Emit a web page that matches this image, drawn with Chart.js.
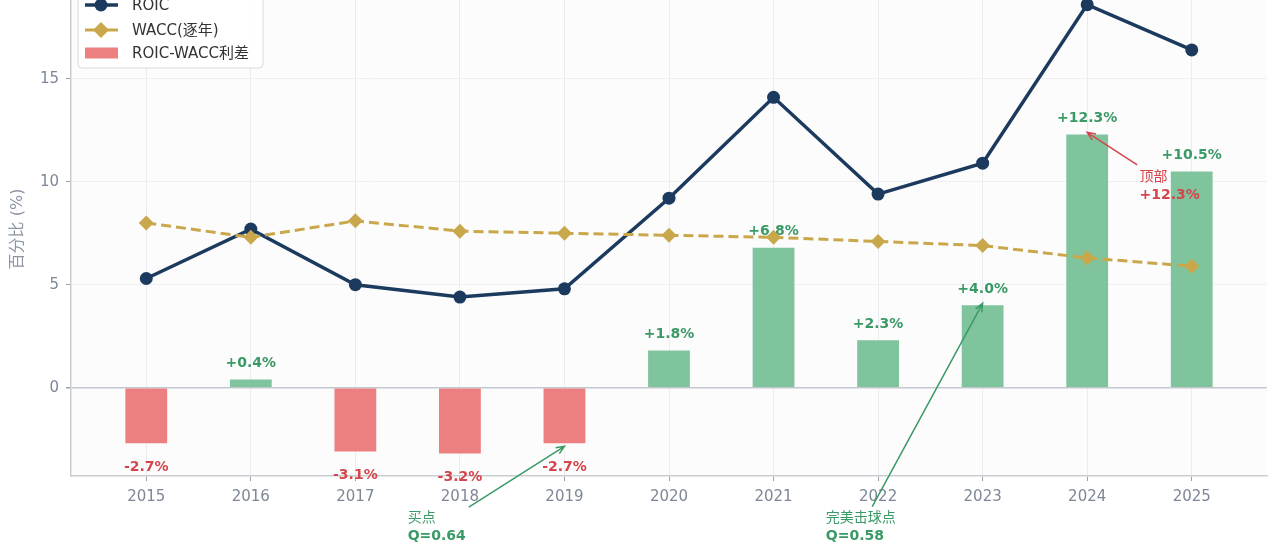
<!DOCTYPE html>
<html lang="zh-CN">
<head>
  <meta charset="UTF-8" />
  <title>ROIC vs WACC</title>
  <script src="https://cdn.jsdelivr.net/npm/chart.js@4.4.1/dist/chart.umd.min.js"></script>
  <style>
    html, body {
      margin: 0;
      padding: 0;
      background: #ffffff;
    }

    /* the reference is cropped at the top, so the canvas sits a bit above the frame */
    .frame {
      width: 1280px;
      height: 543px;
      overflow: hidden;
      position: relative;
    }

    .chart-box {
      position: absolute;
      left: 0;
      top: -60px;
      width: 1280px;
      height: 603px;
    }
  </style>
</head>
<body>
  <div class="frame">
    <div class="chart-box">
      <canvas id="roicChart"></canvas>
    </div>
  </div>

  <script>
    const years = [2015, 2016, 2017, 2018, 2019, 2020, 2021, 2022, 2023, 2024, 2025];
    const roic = [5.3, 7.7, 5.0, 4.4, 4.8, 9.2, 14.1, 9.4, 10.9, 18.6, 16.4];
    const wacc = [8.0, 7.3, 8.1, 7.6, 7.5, 7.4, 7.3, 7.1, 6.9, 6.3, 5.9];
    const spread = [-2.7, 0.4, -3.1, -3.2, -2.7, 1.8, 6.8, 2.3, 4.0, 12.3, 10.5];
    const yTicks = [0, 5, 10, 15];
    const legendLabels = ["ROIC", "WACC(逐年)", "ROIC-WACC利差"];
    const axisTitle = "百分比 (%)";

    // annotations: text lines, arrow target (year, value), text anchor (left year, middle value)
    const noteLines = [["买点", "Q=0.64"], ["完美击球点", "Q=0.58"], ["顶部", "+12.3%"]];
    const noteTargets = [[2019, -2.7], [2023, 4.0], [2024, 12.3]];
    const noteAnchors = [[2017.5, -6.8], [2021.5, -6.8], [2024.5, 9.8]];

    const FONT = '"DejaVu Sans", "Noto Sans CJK SC", sans-serif';
    const NAVY = "#1c3a5e";
    const GOLD = "#c9a74b";
    const GREEN_BAR = "#80c49d";
    const RED_BAR = "#ec8080";
    const GREEN_TXT = "#3a9a66";
    const RED_TXT = "#d4454c";
    const TICK_TXT = "#7d8796";

    const plotBackground = {
      id: "plotBackground",
      beforeDraw(chart) {
        const { ctx, chartArea: a } = chart;
        ctx.save();
        ctx.fillStyle = "#fcfcfd";
        ctx.fillRect(a.left, a.top, a.right - a.left, a.bottom - a.top);
        ctx.restore();
      }
    };

    // value labels on the bars, drawn after the bars but under the lines
    const barLabels = {
      id: "barLabels",
      afterDatasetDraw(chart, args) {
        if (args.index !== 2) return;
        const { ctx } = chart;
        const meta = chart.getDatasetMeta(2);
        ctx.save();
        ctx.font = "bold 14px " + FONT;
        ctx.textAlign = "center";
        ctx.textBaseline = "middle";
        meta.data.forEach((bar, i) => {
          const v = spread[i];
          const txt = (v >= 0 ? "+" : "") + v.toFixed(1) + "%";
          ctx.fillStyle = v >= 0 ? GREEN_TXT : RED_TXT;
          const y = v >= 0 ? bar.y - 16 : bar.y + 24;
          ctx.fillText(txt, bar.x, y);
        });
        ctx.restore();
      }
    };

    function drawArrow(ctx, x0, y0, x1, y1, color) {
      const ang = Math.atan2(y1 - y0, x1 - x0);
      const head = 9;
      ctx.strokeStyle = color;
      ctx.lineWidth = 1.5;
      ctx.beginPath();
      ctx.moveTo(x0, y0);
      ctx.lineTo(x1, y1);
      ctx.moveTo(x1 - head * Math.cos(ang - 0.4), y1 - head * Math.sin(ang - 0.4));
      ctx.lineTo(x1, y1);
      ctx.lineTo(x1 - head * Math.cos(ang + 0.4), y1 - head * Math.sin(ang + 0.4));
      ctx.stroke();
    }

    const notes = {
      id: "notes",
      afterDraw(chart) {
        const { ctx, scales: { x, y } } = chart;
        ctx.save();
        noteLines.forEach((lines, i) => {
          const color = i === 2 ? RED_TXT : GREEN_TXT;
          const left = x.getPixelForValue(noteAnchors[i][0]);
          const mid = y.getPixelForValue(noteAnchors[i][1]);
          const lineH = 18;
          const fonts = ["14px " + FONT, "bold 14px " + FONT];
          let w = 0;
          lines.forEach((t, k) => {
            ctx.font = fonts[k];
            w = Math.max(w, ctx.measureText(t).width);
          });
          const h = lines.length * lineH;
          const cx = left + w / 2;
          const cy = mid;

          // arrow from the edge of the text block to the target
          const tx = x.getPixelForValue(noteTargets[i][0]);
          const ty = y.getPixelForValue(noteTargets[i][1]) + (noteTargets[i][1] < 0 ? 3 : -2);
          const dx = tx - cx, dy = ty - cy;
          const t = Math.min((w / 2 + 3) / Math.abs(dx || 1e-6), (h / 2 + 3) / Math.abs(dy || 1e-6));
          drawArrow(ctx, cx + dx * t, cy + dy * t, tx, ty, color);

          ctx.fillStyle = color;
          ctx.textAlign = "left";
          ctx.textBaseline = "middle";
          lines.forEach((t2, k) => {
            ctx.font = fonts[k];
            ctx.fillText(t2, left, cy - h / 2 + lineH * (k + 0.5));
          });
        });
        ctx.restore();
      }
    };

    const boxLegend = {
      id: "boxLegend",
      afterDraw(chart) {
        const { ctx, chartArea: a } = chart;
        const bx = a.left + 7, by = a.top + 6, bw = 185, bh = 80;
        ctx.save();
        ctx.fillStyle = "rgba(255,255,255,0.9)";
        ctx.strokeStyle = "#d6d8db";
        ctx.lineWidth = 1;
        ctx.beginPath();
        ctx.roundRect(bx, by, bw, bh, 4);
        ctx.fill();
        ctx.stroke();

        const rows = [by + 17, by + 42, by + 65];
        const sx0 = bx + 7, sx1 = bx + 40, mx = bx + 23;

        // ROIC
        ctx.strokeStyle = NAVY;
        ctx.lineWidth = 3.5;
        ctx.beginPath();
        ctx.moveTo(sx0, rows[0]);
        ctx.lineTo(sx1, rows[0]);
        ctx.stroke();
        ctx.fillStyle = NAVY;
        ctx.beginPath();
        ctx.arc(mx, rows[0], 6.5, 0, Math.PI * 2);
        ctx.fill();

        // WACC
        ctx.strokeStyle = GOLD;
        ctx.lineWidth = 3;
        ctx.beginPath();
        ctx.moveTo(sx0, rows[1]);
        ctx.lineTo(sx1, rows[1]);
        ctx.stroke();
        ctx.fillStyle = GOLD;
        ctx.beginPath();
        ctx.moveTo(mx, rows[1] - 8);
        ctx.lineTo(mx + 8, rows[1]);
        ctx.lineTo(mx, rows[1] + 8);
        ctx.lineTo(mx - 8, rows[1]);
        ctx.closePath();
        ctx.fill();

        // spread patch
        ctx.fillStyle = RED_BAR;
        ctx.fillRect(sx0, rows[2] - 5.5, sx1 - sx0, 11);

        ctx.fillStyle = "#333333";
        ctx.font = "15px " + FONT;
        ctx.textAlign = "left";
        ctx.textBaseline = "middle";
        legendLabels.forEach((t, i) => ctx.fillText(t, bx + 54, rows[i] + 1));
        ctx.restore();
      }
    };

    new Chart(document.getElementById("roicChart"), {
      type: "bar",
      data: {
        datasets: [
          {
            type: "line",
            label: legendLabels[0],
            data: years.map((yr, i) => ({ x: yr, y: roic[i] })),
            borderColor: NAVY,
            backgroundColor: NAVY,
            borderWidth: 3.5,
            pointRadius: 6.5,
            pointBorderWidth: 0,
            pointBackgroundColor: NAVY,
            tension: 0,
            clip: false,
            order: 1
          },
          {
            type: "line",
            label: legendLabels[1],
            data: years.map((yr, i) => ({ x: yr, y: wacc[i] })),
            borderColor: GOLD,
            backgroundColor: GOLD,
            borderWidth: 3,
            borderDash: [10, 5],
            pointStyle: "rectRot",
            pointRadius: 7.5,
            pointBorderWidth: 0,
            pointBackgroundColor: GOLD,
            tension: 0,
            clip: false,
            order: 0
          },
          {
            type: "bar",
            label: legendLabels[2],
            data: years.map((yr, i) => ({ x: yr, y: spread[i] })),
            backgroundColor: (c) => (c.raw && c.raw.y >= 0 ? GREEN_BAR : RED_BAR),
            borderWidth: 0,
            barPercentage: 0.4,
            categoryPercentage: 1.0,
            order: 3
          }
        ]
      },
      options: {
        responsive: true,
        maintainAspectRatio: false,
        animation: false,
        layout: {
          padding: { left: 0, right: 13, top: 42, bottom: 0 }
        },
        plugins: {
          legend: { display: false },
          tooltip: { enabled: false }
        },
        scales: {
          x: {
            type: "linear",
            min: 2014.28,
            max: 2025.72,
            offset: false,
            afterBuildTicks: (scale) => {
              scale.ticks = years.map((v) => ({ value: v }));
            },
            afterFit: (scale) => {
              scale.height = 67;
            },
            ticks: {
              callback: (v) => String(v),
              color: TICK_TXT,
              font: { family: FONT, size: 15 },
              padding: 7,
              maxRotation: 0
            },
            grid: {
              offset: false,
              color: "#eaecef",
              lineWidth: 1,
              drawTicks: true,
              tickLength: 5,
              tickColor: "#9aa0a8"
            },
            border: { display: true, color: "#c9cdd2", width: 1.5 }
          },
          y: {
            min: -4.29,
            max: 19.7,
            afterBuildTicks: (scale) => {
              scale.ticks = yTicks.map((v) => ({ value: v }));
            },
            afterFit: (scale) => {
              scale.width = 71;
            },
            ticks: {
              color: TICK_TXT,
              font: { family: FONT, size: 15 },
              padding: 7
            },
            grid: {
              color: (c) => (c.tick && c.tick.value === 0 ? "#c3c8ce" : "#eef0f2"),
              lineWidth: (c) => (c.tick && c.tick.value === 0 ? 1.5 : 1),
              drawTicks: true,
              tickLength: 5,
              tickColor: "#9aa0a8"
            },
            border: { display: true, color: "#c9cdd2", width: 1.5 },
            title: {
              display: true,
              text: axisTitle,
              color: "#8b95a3",
              font: { family: FONT, size: 16 },
              padding: { top: 8, bottom: 4 }
            }
          }
        }
      },
      plugins: [plotBackground, barLabels, notes, boxLegend]
    });
  </script>
</body>
</html>
